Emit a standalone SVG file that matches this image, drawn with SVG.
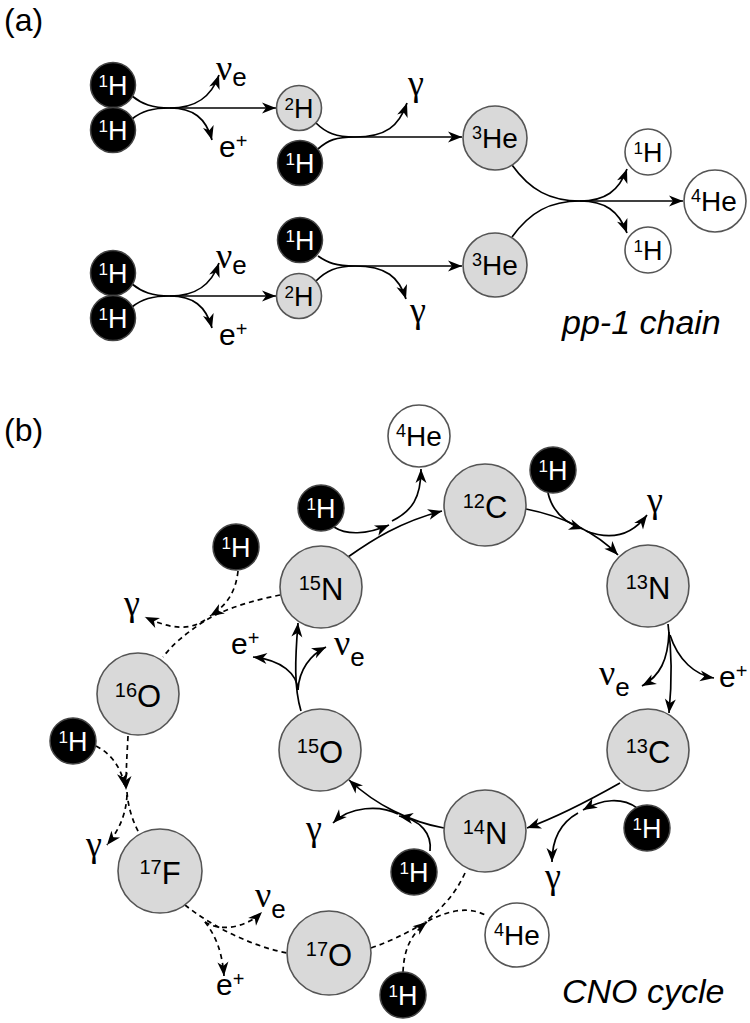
<svg xmlns="http://www.w3.org/2000/svg" width="750" height="1023" viewBox="0 0 750 1023">
<defs>
<marker id="ah" markerUnits="userSpaceOnUse" markerWidth="16" markerHeight="12" refX="14" refY="5.5" orient="auto" overflow="visible">
<path d="M0,0 L14,5.5 L0,11 L4,5.5 z" fill="#000"/>
</marker>
<style>
.bg{fill:#fff}
.nb{fill:#000;stroke:#444;stroke-width:1.5}
.ng{fill:#d9d9d9;stroke:#555;stroke-width:1.6}
.nw{fill:#fff;stroke:#555;stroke-width:1.6}
.ln{fill:none;stroke:#000;stroke-width:1.7}
.ar{fill:none;stroke:#000;stroke-width:1.7;marker-end:url(#ah)}
.dl{fill:none;stroke:#000;stroke-width:1.7;stroke-dasharray:5,4}
.da{fill:none;stroke:#000;stroke-width:1.7;stroke-dasharray:5,4;marker-end:url(#ah)}
text{font-family:"Liberation Sans",Arial,sans-serif;fill:#000}
.wt{fill:#fff}
.gk{font-family:"Liberation Serif","Times New Roman",serif}
.it{font-style:italic;font-size:34px}
.pl{font-size:32px}
</style>
</defs>
<rect class="bg" x="0" y="0" width="750" height="1023"/>

<text x="4" y="31" class="pl">(a)</text>
<text x="4" y="441" class="pl">(b)</text>

<g id="connectors">
<!-- (a) row 1 -->
<path class="ln" d="M132,96 C142,104 152,108 170,108"/>
<path class="ln" d="M132,119 C142,111 152,108 170,108"/>
<path class="ar" d="M170,108 L276,108"/>
<path class="ar" d="M170,108 C195,108 211,98 219,75"/>
<path class="ar" d="M170,108 C193,108 206,118 212,140"/>
<path class="ln" d="M316,123 C326,133 336,137 355,137"/>
<path class="ln" d="M318,149 C328,140 336,137 355,137"/>
<path class="ar" d="M355,137 L462,137"/>
<path class="ar" d="M355,137 C386,137 399,126 407,103"/>
<!-- (a) row 2 -->
<path class="ln" d="M132,284 C142,292 152,296 170,296"/>
<path class="ln" d="M132,307 C142,299 152,296 170,296"/>
<path class="ar" d="M170,296 L276,296"/>
<path class="ar" d="M170,296 C195,296 211,286 219,263"/>
<path class="ar" d="M170,296 C193,296 206,306 212,328"/>
<path class="ln" d="M318,256 C328,263 336,266 355,266"/>
<path class="ln" d="M316,281 C326,271 336,266 355,266"/>
<path class="ar" d="M355,266 L462,266"/>
<path class="ar" d="M355,266 C386,266 399,277 406,299"/>
<!-- (a) final -->
<path class="ln" d="M512,165 C530,190 550,201 580,201"/>
<path class="ln" d="M512,237 C530,212 550,201 580,201"/>
<path class="ar" d="M580,201 L683,201"/>
<path class="ar" d="M580,201 C605,201 619,191 627,169"/>
<path class="ar" d="M580,201 C605,201 619,211 627,233"/>

<!-- (b) CNO solid -->
<path class="ar" d="M348,557 C372,540 400,522 442,511"/>
<path class="ar" d="M334,527 C346,535 366,535 389,525"/>
<path class="ar" d="M392,521 C412,511 421,498 421,469"/>
<path class="ar" d="M526,509 C562,516 596,532 618,555"/>
<path class="ar" d="M548,493 C552,510 562,522 583,529"/>
<path class="ar" d="M586,531 C612,541 632,535 647,515"/>
<path class="ar" d="M668,624 C672,652 672,682 669,713"/>
<path class="ar" d="M669,632 C668,660 660,676 642,686"/>
<path class="ar" d="M670,635 C678,660 695,675 714,678"/>
<path class="ar" d="M620,783 C590,800 560,816 527,828"/>
<path class="ar" d="M637,808 C622,797 602,799 583,810"/>
<path class="ar" d="M578,813 C560,823 552,840 552,862"/>
<path class="ar" d="M444,828 C410,822 376,805 349,780"/>
<path class="ar" d="M430,851 C432,834 421,820 399,816"/>
<path class="ar" d="M398,814 C380,805 350,806 333,823"/>
<path class="ar" d="M301,711 C294,688 295,660 298,623"/>
<path class="ar" d="M298,690 C297,674 282,660 253,657"/>
<path class="ar" d="M298,690 C299,670 310,655 326,647"/>
<!-- (b) CNO dashed -->
<path class="dl" d="M280,595 C255,600 225,608 203,622 C185,634 172,645 163,657"/>
<path class="da" d="M238,571 C236,590 228,605 210,616"/>
<path class="da" d="M205,620 C190,630 172,630 145,617"/>
<path class="da" d="M128,736 C127,755 126,770 126,790"/>
<path class="da" d="M96,746 C110,753 121,766 125,787"/>
<path class="dl" d="M127,792 C128,806 132,820 139,833"/>
<path class="da" d="M127,795 C126,815 119,830 107,845"/>
<path class="dl" d="M185,905 C210,925 250,946 287,953"/>
<path class="da" d="M205,922 C220,932 246,928 262,912"/>
<path class="da" d="M205,922 C215,935 222,950 224,976"/>
<path class="dl" d="M371,948 C395,940 415,928 430,920 C450,910 470,906 487,916"/>
<path class="da" d="M403,972 C404,950 410,935 427,922"/>
<path class="dl" d="M465,873 C455,895 440,910 425,922"/>
</g>

<!-- (a) nodes -->
<g id="a-h1"><circle class="nb" cx="113" cy="85" r="22.5"/><text class="wt" x="113" y="95" text-anchor="middle"><tspan font-size="17" dy="-8">1</tspan><tspan font-size="27" dy="8">H</tspan></text></g>
<g id="a-h2"><circle class="nb" cx="113" cy="130" r="22.5"/><text class="wt" x="113" y="140" text-anchor="middle"><tspan font-size="17" dy="-8">1</tspan><tspan font-size="27" dy="8">H</tspan></text></g>
<g id="a-d1"><circle class="ng" cx="299" cy="108" r="22.5"/><text x="299" y="118" text-anchor="middle"><tspan font-size="17" dy="-8">2</tspan><tspan font-size="27" dy="8">H</tspan></text></g>
<g id="a-h3"><circle class="nb" cx="300" cy="163" r="22.5"/><text class="wt" x="300" y="173" text-anchor="middle"><tspan font-size="17" dy="-8">1</tspan><tspan font-size="27" dy="8">H</tspan></text></g>
<g id="a-he3a"><circle class="ng" cx="495" cy="138" r="32"/><text x="495" y="148" text-anchor="middle"><tspan font-size="18" dy="-9">3</tspan><tspan font-size="28" dy="9">He</tspan></text></g>
<g id="a-h4"><circle class="nb" cx="113" cy="273" r="22.5"/><text class="wt" x="113" y="283" text-anchor="middle"><tspan font-size="17" dy="-8">1</tspan><tspan font-size="27" dy="8">H</tspan></text></g>
<g id="a-h5"><circle class="nb" cx="113" cy="318" r="22.5"/><text class="wt" x="113" y="328" text-anchor="middle"><tspan font-size="17" dy="-8">1</tspan><tspan font-size="27" dy="8">H</tspan></text></g>
<g id="a-d2"><circle class="ng" cx="299" cy="296" r="22.5"/><text x="299" y="306" text-anchor="middle"><tspan font-size="17" dy="-8">2</tspan><tspan font-size="27" dy="8">H</tspan></text></g>
<g id="a-h6"><circle class="nb" cx="300" cy="240" r="22.5"/><text class="wt" x="300" y="250" text-anchor="middle"><tspan font-size="17" dy="-8">1</tspan><tspan font-size="27" dy="8">H</tspan></text></g>
<g id="a-he3b"><circle class="ng" cx="495" cy="265" r="32"/><text x="495" y="275" text-anchor="middle"><tspan font-size="18" dy="-9">3</tspan><tspan font-size="28" dy="9">He</tspan></text></g>
<g id="a-p1"><circle class="nw" cx="648" cy="152" r="23"/><text x="648" y="162" text-anchor="middle"><tspan font-size="17" dy="-8">1</tspan><tspan font-size="27" dy="8">H</tspan></text></g>
<g id="a-he4"><circle class="nw" cx="715" cy="201" r="31"/><text x="714" y="211" text-anchor="middle"><tspan font-size="18" dy="-9">4</tspan><tspan font-size="28" dy="9">He</tspan></text></g>
<g id="a-p2"><circle class="nw" cx="648" cy="250" r="23"/><text x="648" y="260" text-anchor="middle"><tspan font-size="17" dy="-8">1</tspan><tspan font-size="27" dy="8">H</tspan></text></g>

<!-- (a) particle labels -->
<g id="a-labels">
<text x="216" y="80"><tspan class="gk" font-size="36">ν</tspan><tspan font-size="26" dy="6">e</tspan></text>
<text x="219" y="157"><tspan font-size="30">e</tspan><tspan font-size="20" dy="-9">+</tspan></text>
<text x="408" y="95" class="gk" font-size="36">γ</text>
<text x="216" y="268"><tspan class="gk" font-size="36">ν</tspan><tspan font-size="26" dy="6">e</tspan></text>
<text x="219" y="345"><tspan font-size="30">e</tspan><tspan font-size="20" dy="-9">+</tspan></text>
<text x="410" y="322" class="gk" font-size="36">γ</text>
<text x="562" y="334" class="it">pp-1 chain</text>
</g>

<!-- (b) nodes -->
<g id="b-c12"><circle class="ng" cx="485" cy="505" r="41"/><text x="485" y="518" text-anchor="middle"><tspan font-size="20" dy="-10">12</tspan><tspan font-size="31" dy="10">C</tspan></text></g>
<g id="b-n13"><circle class="ng" cx="648" cy="586" r="41"/><text x="648" y="599" text-anchor="middle"><tspan font-size="20" dy="-10">13</tspan><tspan font-size="31" dy="10">N</tspan></text></g>
<g id="b-c13"><circle class="ng" cx="648" cy="750" r="41"/><text x="648" y="763" text-anchor="middle"><tspan font-size="20" dy="-10">13</tspan><tspan font-size="31" dy="10">C</tspan></text></g>
<g id="b-n14"><circle class="ng" cx="485" cy="831" r="41"/><text x="485" y="844" text-anchor="middle"><tspan font-size="20" dy="-10">14</tspan><tspan font-size="31" dy="10">N</tspan></text></g>
<g id="b-o15"><circle class="ng" cx="320" cy="750" r="41"/><text x="320" y="763" text-anchor="middle"><tspan font-size="20" dy="-10">15</tspan><tspan font-size="31" dy="10">O</tspan></text></g>
<g id="b-n15"><circle class="ng" cx="321" cy="587" r="41"/><text x="321" y="600" text-anchor="middle"><tspan font-size="20" dy="-10">15</tspan><tspan font-size="31" dy="10">N</tspan></text></g>
<g id="b-o16"><circle class="ng" cx="138" cy="694" r="41"/><text x="138" y="707" text-anchor="middle"><tspan font-size="20" dy="-10">16</tspan><tspan font-size="31" dy="10">O</tspan></text></g>
<g id="b-f17"><circle class="ng" cx="160" cy="871" r="42"/><text x="160" y="884" text-anchor="middle"><tspan font-size="20" dy="-10">17</tspan><tspan font-size="31" dy="10">F</tspan></text></g>
<g id="b-o17"><circle class="ng" cx="329" cy="953" r="42"/><text x="329" y="966" text-anchor="middle"><tspan font-size="20" dy="-10">17</tspan><tspan font-size="31" dy="10">O</tspan></text></g>
<g id="b-he4a"><circle class="nw" cx="419" cy="436" r="31"/><text x="419" y="446" text-anchor="middle"><tspan font-size="18" dy="-9">4</tspan><tspan font-size="28" dy="9">He</tspan></text></g>
<g id="b-he4b"><circle class="nw" cx="517" cy="935" r="32"/><text x="517" y="945" text-anchor="middle"><tspan font-size="18" dy="-9">4</tspan><tspan font-size="28" dy="9">He</tspan></text></g>
<g id="b-h1"><circle class="nb" cx="553" cy="470" r="23"/><text class="wt" x="553" y="480" text-anchor="middle"><tspan font-size="17" dy="-8">1</tspan><tspan font-size="27" dy="8">H</tspan></text></g>
<g id="b-h2"><circle class="nb" cx="321" cy="508" r="23"/><text class="wt" x="321" y="518" text-anchor="middle"><tspan font-size="17" dy="-8">1</tspan><tspan font-size="27" dy="8">H</tspan></text></g>
<g id="b-h3"><circle class="nb" cx="647" cy="828" r="23"/><text class="wt" x="647" y="838" text-anchor="middle"><tspan font-size="17" dy="-8">1</tspan><tspan font-size="27" dy="8">H</tspan></text></g>
<g id="b-h4"><circle class="nb" cx="414" cy="872" r="23"/><text class="wt" x="414" y="882" text-anchor="middle"><tspan font-size="17" dy="-8">1</tspan><tspan font-size="27" dy="8">H</tspan></text></g>
<g id="b-h5"><circle class="nb" cx="236" cy="547" r="23"/><text class="wt" x="236" y="557" text-anchor="middle"><tspan font-size="17" dy="-8">1</tspan><tspan font-size="27" dy="8">H</tspan></text></g>
<g id="b-h6"><circle class="nb" cx="73" cy="741" r="23"/><text class="wt" x="73" y="751" text-anchor="middle"><tspan font-size="17" dy="-8">1</tspan><tspan font-size="27" dy="8">H</tspan></text></g>
<g id="b-h7"><circle class="nb" cx="403" cy="995" r="23"/><text class="wt" x="403" y="1005" text-anchor="middle"><tspan font-size="17" dy="-8">1</tspan><tspan font-size="27" dy="8">H</tspan></text></g>

<!-- (b) particle labels -->
<g id="b-labels">
<text x="647" y="512" class="gk" font-size="36">γ</text>
<text x="599" y="685"><tspan class="gk" font-size="36">ν</tspan><tspan font-size="26" dy="11">e</tspan></text>
<text x="719" y="687"><tspan font-size="30">e</tspan><tspan font-size="20" dy="-9">+</tspan></text>
<text x="545" y="888" class="gk" font-size="36">γ</text>
<text x="306" y="840" class="gk" font-size="36">γ</text>
<text x="231" y="654"><tspan font-size="30">e</tspan><tspan font-size="20" dy="-9">+</tspan></text>
<text x="334" y="655"><tspan class="gk" font-size="36">ν</tspan><tspan font-size="26" dy="11">e</tspan></text>
<text x="124" y="615" class="gk" font-size="36">γ</text>
<text x="86" y="856" class="gk" font-size="36">γ</text>
<text x="255" y="907"><tspan class="gk" font-size="36">ν</tspan><tspan font-size="26" dy="11">e</tspan></text>
<text x="216" y="995"><tspan font-size="30">e</tspan><tspan font-size="20" dy="-9">+</tspan></text>
<text x="562" y="1003" class="it">CNO cycle</text>
</g>
</svg>
